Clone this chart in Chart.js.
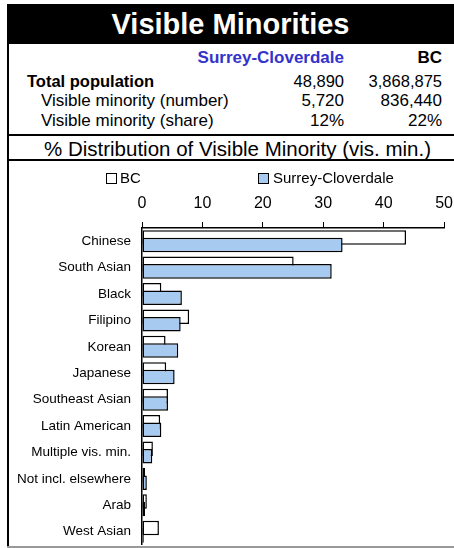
<!DOCTYPE html>
<html>
<head>
<meta charset="utf-8">
<script src="https://cdn.jsdelivr.net/npm/chart.js@4.4.1/dist/chart.umd.min.js"></script>
<style>
body { margin: 0; width: 454px; height: 548px; position: relative; overflow: hidden; background: #fff;
       font-family: "Liberation Sans", Arial, sans-serif; color: #000; }
.abs { position: absolute; }
#title { left: 7px; top: 4px; width: 447px; height: 40px; background: #000; color: #fff;
         font-weight: bold; font-size: 29px; line-height: 40px; text-align: center; }
#leftline { left: 7px; top: 44px; width: 2px; height: 503px; background: #000; }
.hline { left: 7px; width: 447px; height: 2px; background: #000; }
.row { left: 0; width: 454px; height: 20px; line-height: 20px; white-space: nowrap; }
.row span { position: absolute; top: 0; }
.c1 { right: 110px; }
.c2 { right: 12px; }
#subtitle { left: 21px; top: 137px; width: 433px; height: 23px; line-height: 23px; text-align: center;
            font-size: 20.5px; white-space: nowrap; }
.lbox { position: absolute; width: 9px; height: 9px; border: 1.5px solid #000; }
.ltext { position: absolute; font-size: 15px; line-height: 16px; white-space: nowrap; }
#bottomline { left: 7px; top: 546px; width: 447px; height: 1.5px; background: #999; }
#chartbox { left: 9px; top: 161px; width: 453px; height: 403px; }
</style>
</head>
<body>
<div class="abs" id="title">Visible Minorities</div>
<div class="abs" id="leftline"></div>
<div id="table"></div>
<div class="abs hline" style="top:134px"></div>
<div class="abs" id="subtitle">% Distribution of Visible Minority (vis. min.)</div>
<div class="abs hline" style="top:159px"></div>
<div class="abs" id="chartbox"><canvas id="visChart" width="453" height="403"></canvas></div>
<div class="abs" id="legend" style="left:0;top:0"></div>
<div class="abs" id="bottomline"></div>

<script>
// Summary table
const regionName = 'Surrey-Cloverdale';
const compareName = 'BC';
const rowLabels = ['Total population', 'Visible minority (number)', 'Visible minority (share)'];
const regionValues = ['48,890', '5,720', '12%'];
const bcValues = ['3,868,875', '836,440', '22%'];

// % distribution of visible minority
const categories = ['Chinese', 'South Asian', 'Black', 'Filipino', 'Korean', 'Japanese',
    'Southeast Asian', 'Latin American', 'Multiple vis. min.', 'Not incl. elsewhere', 'Arab', 'West Asian'];
const bcShare = [43.7, 25.1, 3.2, 7.8, 3.9, 4.0, 4.3, 3.0, 1.8, 0.5, 0.8, 2.8];
const surreyShare = [33.2, 31.4, 6.6, 6.4, 6.0, 5.4, 4.3, 3.2, 1.7, 0.8, 0.5, 0.3];
const xTicks = [0, 10, 20, 30, 40, 50];

const seriesColors = { bc: '#ffffff', surrey: '#a6caf0' };

function buildTable() {
    const table = document.getElementById('table');
    let html = '<div class="abs row" style="top:48px;font-weight:bold;font-size:17px">' +
        '<span class="c1" style="color:#3333cc">' + regionName + '</span>' +
        '<span class="c2">' + compareName + '</span></div>';
    const tops = [71, 91, 111];
    rowLabels.forEach((label, i) => {
        const bold = i === 0;
        html += '<div class="abs row" style="top:' + tops[i] + 'px;font-size:' + (bold ? 16.5 : 17) + 'px">' +
            '<span style="left:' + (bold ? 27 : 41) + 'px;' + (bold ? 'font-weight:bold' : '') + '">' + label + '</span>' +
            '<span class="c1">' + regionValues[i] + '</span>' +
            '<span class="c2">' + bcValues[i] + '</span></div>';
    });
    table.innerHTML = html;
}

function buildLegend() {
    const legend = document.getElementById('legend');
    legend.innerHTML =
        '<div class="lbox" style="left:106px;top:173px;background:' + seriesColors.bc + '"></div>' +
        '<div class="ltext" style="left:120px;top:170px">' + compareName + '</div>' +
        '<div class="lbox" style="left:258px;top:173px;background:' + seriesColors.surrey + '"></div>' +
        '<div class="ltext" style="left:273px;top:170px">' + regionName + '</div>';
}

// Excel draws the second series over the first one
const surreyOnTop = {
    id: 'surreyOnTop',
    beforeDatasetDraw(chart, args) {
        if (args.index === 1) return false;
    },
    afterDatasetsDraw(chart) {
        chart.getDatasetMeta(1).controller.draw();
    }
};

function renderChart() {
    Chart.defaults.font.family = '"Liberation Sans", Arial, sans-serif';
    Chart.defaults.color = '#000';
    const ctx = document.getElementById('visChart').getContext('2d');
    new Chart(ctx, {
        type: 'bar',
        data: {
            labels: categories,
            datasets: [{
                label: compareName,
                data: bcShare,
                backgroundColor: seriesColors.bc,
                borderColor: '#000',
                borderWidth: 1.5,
                borderSkipped: false
            }, {
                label: regionName,
                data: surreyShare,
                backgroundColor: seriesColors.surrey,
                borderColor: '#000',
                borderWidth: 1.5,
                borderSkipped: false
            }]
        },
        options: {
            indexAxis: 'y',
            responsive: false,
            animation: false,
            categoryPercentage: 0.57,
            barPercentage: 1.93,
            layout: { padding: 0 },
            scales: {
                x: {
                    position: 'top',
                    min: 0,
                    max: 50,
                    afterBuildTicks: scale => { scale.ticks = xTicks.map(v => ({ value: v })); },
                    afterFit: scale => { scale.height = 67; },
                    ticks: { font: { size: 16 }, padding: 9, maxRotation: 0 },
                    grid: { drawOnChartArea: false, drawTicks: true, tickLength: 6, color: '#000', lineWidth: 1 },
                    border: { display: true, color: '#000', width: 1.5 }
                },
                y: {
                    afterFit: scale => { scale.width = 133; },
                    ticks: { font: { size: 13.5 }, padding: 11, autoSkip: false },
                    grid: { display: false, drawTicks: false },
                    border: { display: true, color: '#000', width: 1.5 }
                }
            },
            plugins: {
                legend: { display: false },
                tooltip: { enabled: false }
            }
        },
        plugins: [surreyOnTop]
    });
}

document.addEventListener('DOMContentLoaded', () => {
    buildTable();
    buildLegend();
    renderChart();
});
</script>
</body>
</html>
